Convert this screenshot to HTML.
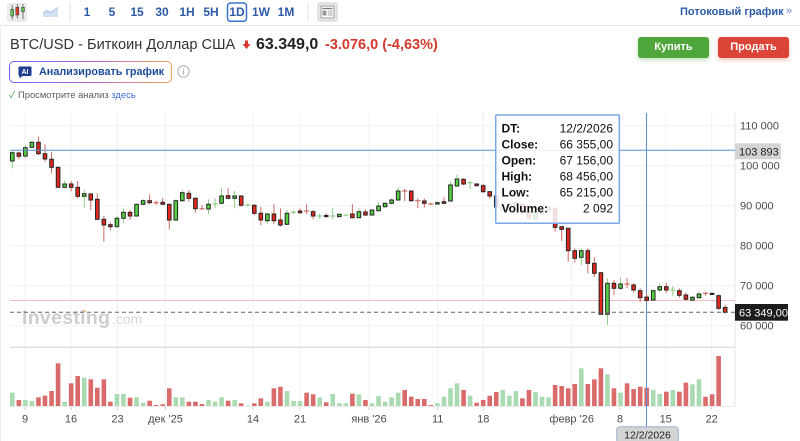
<!DOCTYPE html>
<html><head><meta charset="utf-8"><style>
*{margin:0;padding:0;box-sizing:border-box}
html,body{width:800px;height:441px;overflow:hidden;background:#fff}
body{position:relative;font-family:"Liberation Sans","Noto Sans CJK SC",sans-serif;color:#333}
.a{position:absolute;white-space:nowrap}
.tb{top:3px;width:30px;text-align:center;font-size:12px;font-weight:bold;color:#2c5aa6;line-height:19px}
.btn{top:37px;width:71px;height:21px;border-radius:3px;color:#fff;font-size:11px;font-weight:bold;text-align:center;line-height:21px}
</style></head><body>
<div class="a" style="left:0;top:25px;width:800px;height:1px;background:#e6e6e6"></div>
<div class="a" style="left:0;top:26px;width:1px;height:415px;background:#ededed"></div>

<svg class="a" style="left:0;top:0" width="340" height="25">
 <rect x="7" y="3" width="20" height="19" rx="2" fill="#ebebeb"/>
 <line x1="12.2" y1="5" x2="12.2" y2="19.5" stroke="#555" stroke-width="0.8"/>
 <rect x="10.8" y="9.3" width="2.8" height="6.7" fill="#5cc54a" stroke="#444" stroke-width=".6"/>
 <line x1="17.3" y1="4" x2="17.3" y2="18.5" stroke="#555" stroke-width="0.8"/>
 <rect x="15.8" y="7.3" width="3" height="7.7" fill="#e23a2c" stroke="#444" stroke-width=".6"/>
 <line x1="23" y1="4" x2="23" y2="19.3" stroke="#555" stroke-width="0.8"/>
 <rect x="21.6" y="7.3" width="2.8" height="4.4" fill="#5cc54a" stroke="#444" stroke-width=".6"/>
 <polygon points="43,17 43,13.5 47,10.5 51,12.5 54.5,9.5 58,7.5 58,17" fill="#d3e0f0"/>
 <polyline points="43,13.5 47,10.5 51,12.5 54.5,9.5 58,7.5" fill="none" stroke="#a9c0e0" stroke-width="1"/>
 <line x1="70" y1="3" x2="70" y2="22" stroke="#e2e2e2"/>
 <rect x="227.5" y="3" width="19" height="18.3" rx="3" fill="#fff" stroke="#3d72d4" stroke-width="1.5"/>
 <line x1="308" y1="3" x2="308" y2="22" stroke="#e2e2e2"/>
 <rect x="318" y="3" width="19" height="18" rx="2" fill="#e9e9e9" stroke="#cfcfcf"/>
 <rect x="321" y="6" width="13" height="12" fill="#fafafa" stroke="#8a8a8a" stroke-width=".8"/>
 <line x1="322.5" y1="8.5" x2="332.5" y2="8.5" stroke="#777" stroke-width="1.2"/>
 <rect x="322.5" y="10.5" width="4" height="5" fill="#999"/>
 <line x1="328" y1="11" x2="332.5" y2="11" stroke="#999" stroke-width=".8"/>
 <line x1="328" y1="13" x2="332.5" y2="13" stroke="#999" stroke-width=".8"/>
 <line x1="328" y1="15" x2="332.5" y2="15" stroke="#999" stroke-width=".8"/>
</svg>
<div class="a tb" style="left:72px">1</div>
<div class="a tb" style="left:97px">5</div>
<div class="a tb" style="left:122px">15</div>
<div class="a tb" style="left:147px">30</div>
<div class="a tb" style="left:172px">1H</div>
<div class="a tb" style="left:196px">5H</div>
<div class="a tb" style="left:222px">1D</div>
<div class="a tb" style="left:246px">1W</div>
<div class="a tb" style="left:271px">1M</div>

<div class="a" style="left:680px;top:5px;font-size:11px;font-weight:bold;color:#2c5aa6;line-height:15px">Потоковый график</div>
<div class="a" style="left:786px;top:4px;font-size:11px;color:#6d8cc4;line-height:15px">»</div>

<div class="a" style="left:10px;top:37px;font-size:14.6px;line-height:17px;color:#333">BTC/USD - Биткоин Доллар США</div>
<svg class="a" style="left:242px;top:40px" width="10" height="10">
 <rect x="3" y="0.5" width="3" height="4" fill="#d8382c"/>
 <polygon points="0.5,4 8.5,4 4.5,9" fill="#d8382c"/>
</svg>
<div class="a" style="left:256px;top:36px;font-size:16px;font-weight:bold;line-height:18px;color:#222">63.349,0</div>
<div class="a" style="left:325px;top:37px;font-size:14.5px;font-weight:bold;line-height:17px;color:#d33a2e">-3.076,0 (-4,63%)</div>

<div class="a btn" style="left:638px;background:#4fa63a;box-shadow:0 2px 5px rgba(80,166,58,.35)">Купить</div>
<div class="a btn" style="left:718px;background:#dc4437;box-shadow:0 2px 5px rgba(220,68,55,.35)">Продать</div>

<div class="a" style="left:9px;top:60.5px;width:163px;height:22px;border-radius:5px;background:linear-gradient(90deg,#7060f0,#b368d8 50%,#f0a050);padding:1px">
 <div style="width:100%;height:100%;background:#fff;border-radius:4px;position:relative">
  <svg style="position:absolute;left:8px;top:4.5px" width="14" height="12">
   <path d="M1.5,0.5 h11 a1,1 0 0 1 1,1 v7.5 a1,1 0 0 1 -1,1 h-8 l-3,2.5 v-2.5 a1,1 0 0 1 -1,-1 v-7.5 a1,1 0 0 1 1,-1z" fill="#1f3d8f"/>
   <text x="7" y="8" font-size="7" font-weight="bold" fill="#fff" text-anchor="middle" font-family="Liberation Sans, sans-serif">AI</text>
  </svg>
  <div style="position:absolute;left:29px;top:0;line-height:20px;font-size:10.8px;font-weight:bold;color:#1e4c9c">Анализировать график</div>
 </div>
</div>
<svg class="a" style="left:177px;top:65px" width="14" height="14">
 <circle cx="6.5" cy="6.5" r="5.7" fill="none" stroke="#b0b0b0" stroke-width="1"/>
 <rect x="6" y="5.5" width="1.1" height="4" fill="#a8a8a8"/>
 <rect x="6" y="3.3" width="1.1" height="1.1" fill="#a8a8a8"/>
</svg>
<div class="a" style="left:9px;top:89px;font-size:9.4px;line-height:12px;color:#5a5a5a"><span style="color:#3aa04a">✓</span> Просмотрите анализ <span style="color:#3a6fd6">здесь</span></div>

<svg class="a" style="left:0;top:0" width="800" height="441" font-family="Liberation Sans, sans-serif">
 <g stroke="#f1f1f1" stroke-width="1" id="grid"></g>
 <g stroke="#f3f3f3" stroke-width="1">
  <line x1="10" y1="125.7" x2="735" y2="125.7"/>
  <line x1="10" y1="165.7" x2="735" y2="165.7"/>
  <line x1="10" y1="205.7" x2="735" y2="205.7"/>
  <line x1="10" y1="245.7" x2="735" y2="245.7"/>
  <line x1="10" y1="285.7" x2="735" y2="285.7"/>
  <line x1="10" y1="325.7" x2="735" y2="325.7"/>
 </g>
 <text x="22" y="324" font-size="19.5" font-weight="bold" letter-spacing="0.3" fill="#cdcdcd">Investing</text>
 <text x="112" y="324" font-size="14" fill="#d6d6d6">.com</text>
 <circle cx="85" cy="311" r="1.3" fill="#f3c98a"/>
 <line x1="735" y1="113" x2="735" y2="407" stroke="#e6e6e6"/>
 <line x1="10" y1="347.3" x2="735" y2="347.3" stroke="#d2d2d2"/>
 <line x1="10" y1="406.5" x2="735" y2="406.5" stroke="#ececec"/>
 <line x1="10" y1="300.5" x2="735" y2="300.5" stroke="#f6bcbc"/>
 <g id="vol"></g>
 <line x1="646.5" y1="113" x2="646.5" y2="427" stroke="#5b8ed6" stroke-width="1"/>
 <g id="cand"></g>
 <line x1="10" y1="312.3" x2="735" y2="312.3" stroke="#666" stroke-dasharray="4,3"/>
 <line x1="10" y1="150.3" x2="735" y2="150.3" stroke="#5b8ed6" stroke-width="1"/>
 <g id="ticks" stroke="#cfcfcf"></g>

 <rect x="495.7" y="115" width="123.6" height="108.3" rx="1" fill="rgba(255,255,255,0.86)" stroke="#7aa8e8" stroke-width="1.5"/>
 <g font-size="12" fill="#111">
  <text x="501.5" y="132.6" font-weight="bold">DT:</text><text x="613" y="132.6" text-anchor="end">12/2/2026</text>
  <text x="501.5" y="148.6" font-weight="bold">Close:</text><text x="613" y="148.6" text-anchor="end">66 355,00</text>
  <text x="501.5" y="164.6" font-weight="bold">Open:</text><text x="613" y="164.6" text-anchor="end">67 156,00</text>
  <text x="501.5" y="180.6" font-weight="bold">High:</text><text x="613" y="180.6" text-anchor="end">68 456,00</text>
  <text x="501.5" y="196.6" font-weight="bold">Low:</text><text x="613" y="196.6" text-anchor="end">65 215,00</text>
  <text x="501.5" y="212.6" font-weight="bold">Volume:</text><text x="613" y="212.6" text-anchor="end">2 092</text>
 </g>

 <g font-size="11" fill="#4a4a4a">
  <text x="740" y="129.7">110 000</text>
  <text x="740" y="169.7">100 000</text>
  <text x="740" y="209.7">90 000</text>
  <text x="740" y="249.7">80 000</text>
  <text x="740" y="289.7">70 000</text>
  <text x="740" y="329.7">60 000</text>
 </g>
 <rect x="735" y="143.3" width="46" height="16" fill="#d4d4d4"/>
 <text x="739" y="155.3" font-size="11" fill="#222">103 893</text>
 <rect x="735" y="304" width="53" height="16.7" fill="#1c1c1c"/>
 <text x="739" y="316.3" font-size="11" fill="#fff">63 349,00</text>

 <g font-size="11" fill="#4a4a4a" text-anchor="middle">
  <text x="25" y="422.7">9</text>
  <text x="71" y="422.7">16</text>
  <text x="117.5" y="422.7">23</text>
  <text x="165.5" y="422.7">дек '25</text>
  <text x="253" y="422.7">14</text>
  <text x="300" y="422.7">21</text>
  <text x="369" y="422.7">янв '26</text>
  <text x="437.7" y="422.7">11</text>
  <text x="483.3" y="422.7">18</text>
  <text x="571.7" y="422.7">февр '26</text>
  <text x="620" y="422.7">8</text>
  <text x="665.7" y="422.7">15</text>
  <text x="711.7" y="422.7">22</text>
 </g>
 <rect x="616.7" y="426.7" width="61.6" height="16" rx="3" fill="#d4d4d4" stroke="#9fb4d3" stroke-width="1"/>
 <text x="647.5" y="438.3" font-size="10.5" fill="#222" text-anchor="middle">12/2/2026</text>
</svg>

<script>
const ns="http://www.w3.org/2000/svg";
function el(t,a,p){const e=document.createElementNS(ns,t);for(const k in a)e.setAttribute(k,a[k]);p.appendChild(e);return e;}
const X=i=>12.3+6.54*i;
const TX=[25,71,117.5,165.5,253,300,369,437.7,483.3,571.7,620,665.7,711.7];
const gg=document.getElementById('grid'),gt=document.getElementById('ticks');
TX.forEach(x=>{el('line',{x1:x,x2:x,y1:113,y2:406},gg);el('line',{x1:x,x2:x,y1:407,y2:410},gt);});
const D=[
[152.7,161,150.7,168.3,1],[153,156.3,151.7,159.3,0],[147.7,156,145,158.3,1],[142.3,147.3,140.7,148.3,1],[142.3,153.7,136.7,155,0],
[153.7,159,144.3,161.7,0],[159.3,167.3,151.7,173.3,0],[167.3,187.3,166.7,187.7,0],[184,187.3,180.7,188.3,1],[184,187.3,181,191.3,0],
[187.3,196.3,181,198.3,0],[193.7,196.3,190,207.7,1],[194,200,193.3,210,0],[199.3,219.3,193.3,220,0],[219.3,225,215.7,241.7,0],
[224.7,226.7,222.3,230,0],[218.3,226.7,216,226.7,1],[212.3,218.3,208.7,223.3,1],[212.3,216,210,220,0],[204.3,216,203.3,216.7,1],
[200.7,204.3,199.3,205,1],[200.7,202.7,194.3,204.3,0],[202.7,202.7,200.7,205,0],[202.3,204.3,198,205,0],[204.3,220,203.7,229.3,0],
[200.7,220,199.3,220.7,1],[192.7,200.7,190,201.7,1],[193.3,198.3,190,201.7,0],[198.3,208.7,197.3,212.7,0],[208.7,208.7,205,210,0],
[204.3,209,199.3,214,1],[204,204,198.3,208.3,1],[196,203.3,187.7,204.3,1],[195.7,198.3,188.3,199.3,0],[196,198.3,191,208.3,1],
[196,205.3,195.3,206.7,0],[205,205,203.7,206.7,1],[205.3,213.3,204.3,215,0],[213.3,220,206.7,225,0],[214,220.7,213.3,224,1],
[214,220.7,204.3,224,0],[220,225,208.3,226.7,0],[213.3,224.3,210,225,1],[212.3,212.3,210,214,1],[211,212.7,208.3,214,0],
[211,211,204.3,214,0],[211.7,216,210,219.3,0],[216,216,214,219,1],[215.5,216.7,213.3,217.3,0],[216,216,207.7,219,1],
[214.3,216.7,213.7,217,1],[215,215,214,216.5,1],[214,217.7,204.3,218.3,0],[211.7,217.7,208.3,218.3,1],[212,215,209.3,216,0],
[210,215,209.3,215.7,1],[206,210.7,202.3,211.7,1],[203.3,206.7,202.3,207.7,1],[200,203.3,198.3,204.3,1],[191,200,187.3,200.7,1],
[191,191,189,201,0],[191,200.7,191,201.7,0],[200.7,200.7,198.3,208.3,0],[201,203.3,198.3,207.7,0],[204,204,202.7,205,0],
[202.7,204,202,204.7,1],[201.7,203.3,197.3,204.3,0],[185,201,181.7,201.7,1],[179,186,174.3,186.7,1],[179.3,184,178.3,185,0],
[182.7,182.7,181,189,1],[184,185.7,183.3,186.3,0],[185.7,191.7,184,192.7,0],[191.7,196,191,198.3,0],[196,207,195,211.7,0],
[206,210,204,212,1],[204,207,202,209,1],[203,205.5,201,207,1],[204,212,203,214,0],[212,218,210,220,0],
[212,219,211,221,1],[211,214,209,216,1],[207,211,205,213,1],[208.3,227.3,207,231.7,0],[226.7,229.3,226.7,241,0],
[228.3,250.7,228.3,261.7,0],[250.7,258.3,248.3,262.7,0],[250.7,257.3,248.3,265,1],[250.7,263.3,248.3,273.3,0],[263.3,273.3,257.3,276.7,0],
[272.7,314.3,272.7,314.3,0],[283.3,314.3,278.3,325,1],[283.3,288.3,280,295,0],[284,288.3,277.3,290,1],[284,284,278,288,0],
[285,290,283.3,292.7,0],[290.7,297.7,288.3,301.7,0],[297.1,300.3,294,302,0],[290.7,300,289.3,300.7,1],[286.7,290,284,291.7,1],
[286.7,290,282.7,292.7,0],[290,290,286,296,1],[290.7,295.3,288.3,297.7,0],[295,299.3,292.7,300.7,0],[297.3,300,296,301.7,1],
[294,297.7,291.7,298.3,1],[293.3,293.3,291.7,295.7,0],[293.3,294.5,293,295,0],[295.7,308.3,294.3,310,0],[307.5,312.3,305,314,0]
];
const V=[392.7,400,400,401,397.3,395.7,391,363.3,401.7,383.3,376,377.7,379.3,387.7,379.3,401.7,394,394,397.7,397.3,
402.7,400.7,405,404.3,388.3,397.3,397.3,401.7,401.7,404,400,401.7,397.3,400.7,400,403.3,405.5,403.3,398.3,401.7,
388.3,386.7,391,401,401,392.7,394.3,397.3,402.3,394,403.3,403.3,393.7,394.3,400,403.3,396,401.7,397.3,392.7,
390,396.7,399,399,405,403.3,396.7,388.3,383.3,390,395.7,402.7,400,395.7,392,390,395.7,391,398.3,390,
392,396.7,397.3,385,386,388.3,384,368.3,384,379.3,368.3,374.3,388.3,392.7,383.3,389,386.7,387.7,390,394,
391.7,390,391.7,382.7,384.3,379.3,396.7,394.3,356,406];
const VC="grggrrrrgr"+"rgrrrrggrg"+"grrrrggrrr"+"gggrgrgrrg"+"rrgggrrgrg"+"ggrgrggggg"+"rrrrrggggr"+"grrrrgggrr"+"gggrrrrgrr"+"rgrgrrrrgg"+"rgrrggrrrr";
const gv=document.getElementById('vol'),gc=document.getElementById('cand');
V.forEach((v,i)=>{if(v<405.8)el('rect',{x:X(i)-2.3,y:v,width:4.6,height:406-v,fill:VC[i]=='g'?'#a9dab1':'#d96b6b'},gv);});
D.forEach((d,i)=>{const x=X(i),g=d[4],wc=g?'#8fcb8a':'#cf6a63';
 el('line',{x1:x,x2:x,y1:d[2],y2:d[3],stroke:wc,'stroke-width':1},gc);
 if(d[1]-d[0]<1)el('line',{x1:x-2.6,x2:x+2.6,y1:d[0],y2:d[0],stroke:wc,'stroke-width':1.2},gc);
 else el('rect',{x:x-1.8,y:d[0],width:3.6,height:d[1]-d[0],fill:g?'#55d043':'#e2281e',stroke:'#222','stroke-width':1},gc);
});
</script>
</body></html>
